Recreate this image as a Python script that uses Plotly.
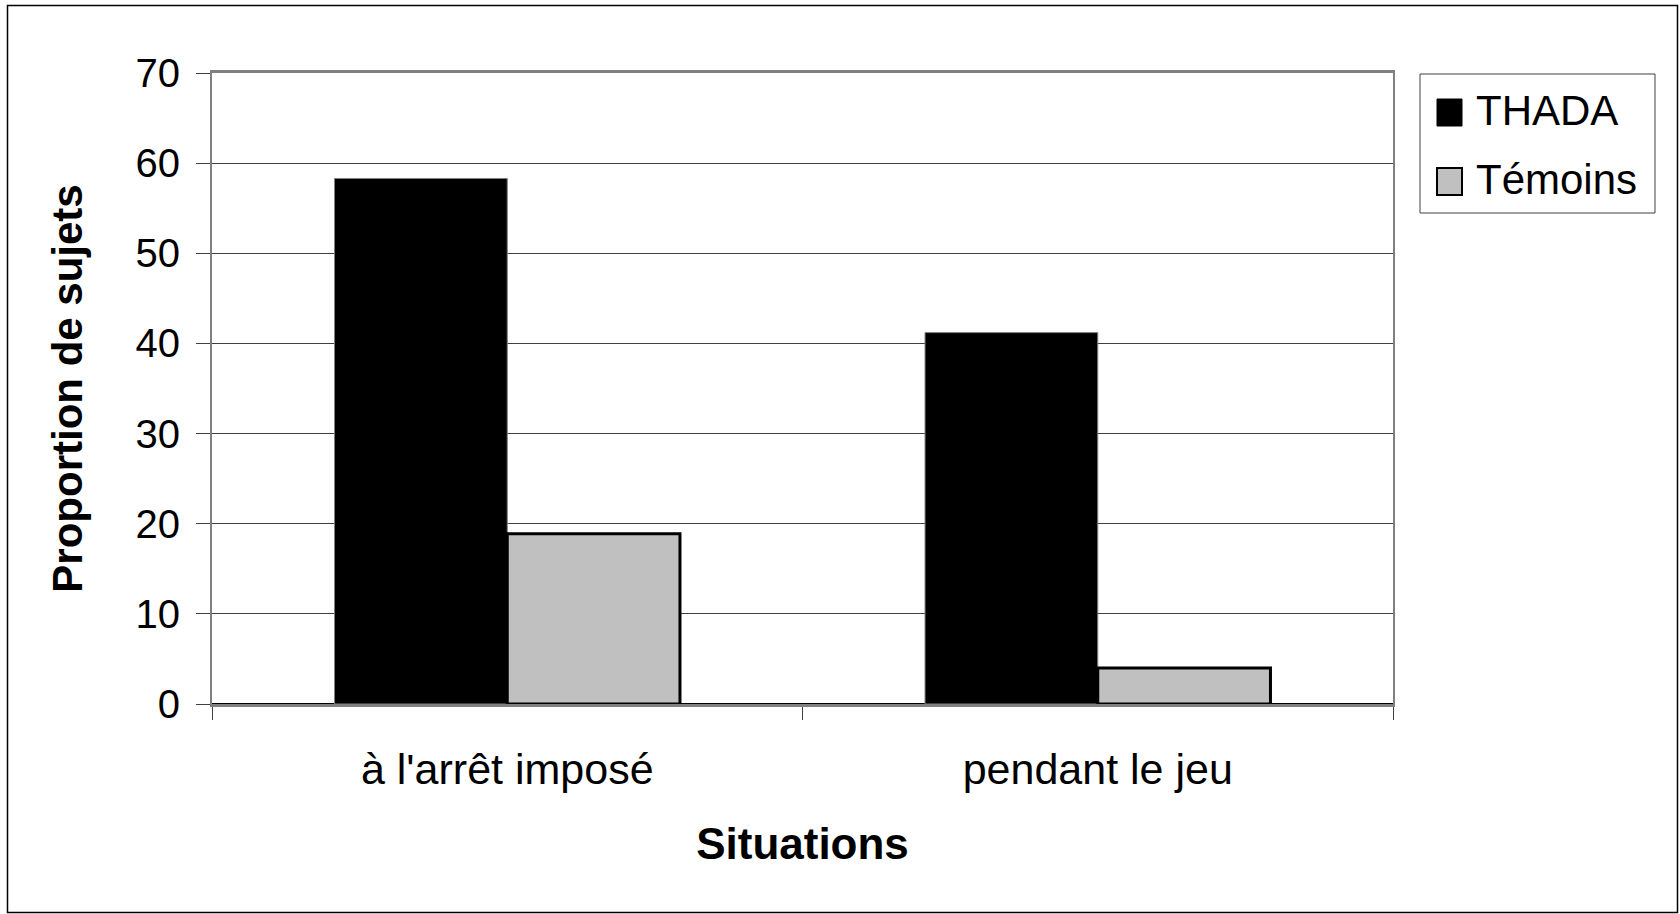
import plotly.graph_objects as go

# Data
situations = ["à l'arrêt imposé", "pendant le jeu"]
series_names = ["THADA", "Témoins"]
thada = [58.3, 41.2]
temoins = [18.9, 4.0]
y_ticks = [0, 10, 20, 30, 40, 50, 60, 70]

FONT = "Arial, Liberation Sans, sans-serif"
W, H = 1680, 914
ML, MR, MT, MB = 212, 287, 73, 210
PW, PH = W - ML - MR, H - MT - MB


def px_x(x):
    """Pixel x -> paper coordinate."""
    return (x - ML) / PW


def px_y(y):
    """Pixel y (from top) -> paper coordinate."""
    return (H - MB - y) / PH


fills = ["#000000", "#c0c0c0"]
edges = [("#808080", 1), ("#000000", 3)]
values = [thada, temoins]

fig = go.Figure()
for name, vals, fill, (ec, ew) in zip(series_names, values, fills, edges):
    fig.add_trace(go.Bar(
        x=situations, y=vals, name=name,
        marker=dict(color=fill, line=dict(color=ec, width=ew)),
        showlegend=False,
    ))

# Legend box drawn in paper space
shapes = [
    dict(type="rect", xref="paper", yref="paper",
         x0=px_x(1420), x1=px_x(1655), y0=px_y(213), y1=px_y(74),
         line=dict(color="#404040", width=1), fillcolor="white", layer="above"),
    # outer chart frame
    dict(type="rect", xref="paper", yref="paper",
         x0=px_x(7.5), x1=px_x(1677.5), y0=px_y(912.5), y1=px_y(5.5),
         line=dict(color="#000000", width=1.5), layer="above"),
]
annotations = []
legend_rows = [(99, 126, 127), (168, 195, 196)]
for name, fill, (ec, ew), (top, bot, base) in zip(series_names, fills, edges, legend_rows):
    shapes.append(dict(
        type="rect", xref="paper", yref="paper",
        x0=px_x(1437), x1=px_x(1462), y0=px_y(bot), y1=px_y(top),
        line=dict(color="#000000", width=2 if ew > 1 else 1), fillcolor=fill, layer="above",
    ))
    annotations.append(dict(
        xref="paper", yref="paper", x=px_x(1474), y=px_y(base + 9),
        xanchor="left", yanchor="bottom", text=name, showarrow=False,
        font=dict(family=FONT, size=42, color="black"),
    ))

fig.update_layout(
    width=W, height=H,
    margin=dict(l=ML, r=MR, t=MT, b=MB),
    paper_bgcolor="white", plot_bgcolor="white",
    barmode="group", bargap=0.415, bargroupgap=0,
    font=dict(family=FONT, color="black"),
    shapes=shapes, annotations=annotations,
    showlegend=False,
    xaxis=dict(
        type="category",
        tickson="boundaries", ticks="outside", ticklen=13, tickcolor="#404040",
        tickfont=dict(size=43, family=FONT, color="black"),
        ticklabelstandoff=25,
        showline=True, mirror=True, linecolor="#808080", linewidth=3,
        showgrid=False,
        title=dict(text="<b>Situations</b>", font=dict(size=44, family=FONT, color="black"), standoff=37),
        automargin=False,
    ),
    yaxis=dict(
        range=[0, 70], tickvals=y_ticks,
        ticks="outside", ticklen=14, tickcolor="#404040",
        tickfont=dict(size=40, family=FONT, color="black"),
        ticklabelstandoff=8,
        showline=True, mirror=True, linecolor="#808080", linewidth=2,
        showgrid=True, gridcolor="#404040", gridwidth=1,
        zeroline=True, zerolinecolor="#000000", zerolinewidth=2,
        title=dict(text="<b>Proportion de sujets</b>", font=dict(size=42, family=FONT, color="black"), standoff=40),
        automargin=False,
    ),
)

fig.write_html("out.html")
